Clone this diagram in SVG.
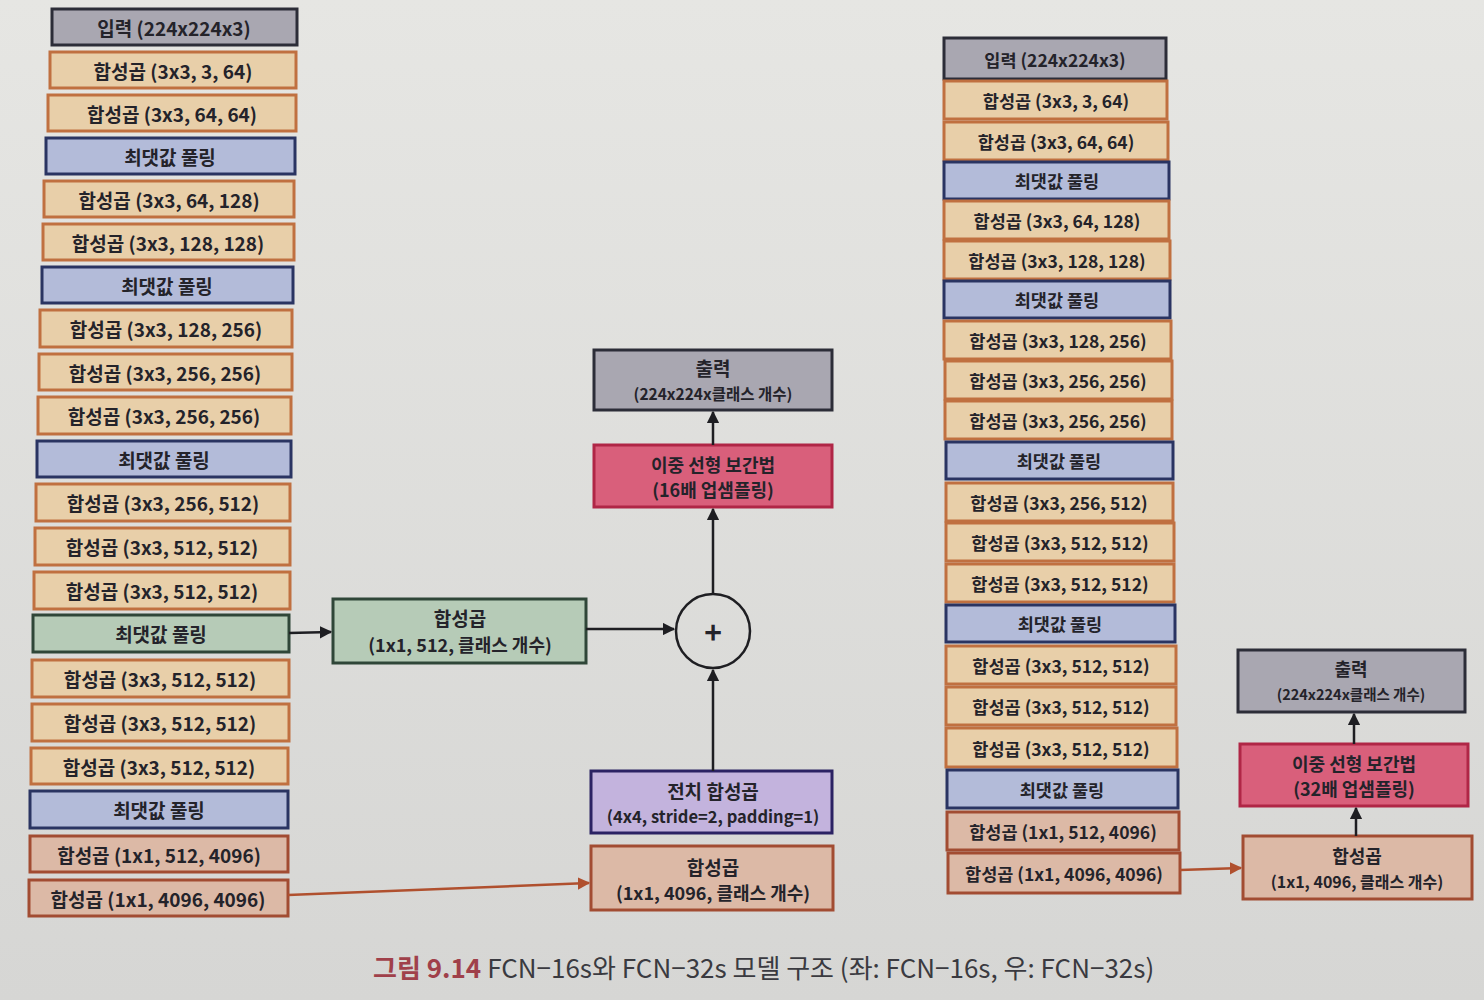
<svg xmlns="http://www.w3.org/2000/svg" width="1484" height="1000" viewBox="0 0 1484 1000">
<defs>
<linearGradient id="bg" x1="0" y1="0" x2="0" y2="1">
<stop offset="0" stop-color="#e6e6e3"/>
<stop offset="1" stop-color="#d6d6d4"/>
</linearGradient>
<marker id="ah" viewBox="0 0 10 10" refX="9" refY="5" markerWidth="5" markerHeight="5" orient="auto">
<path d="M0,0 L10,5 L0,10 z" fill="#1e1e22"/>
</marker>
<marker id="aho" viewBox="0 0 10 10" refX="9" refY="5" markerWidth="5" markerHeight="5" orient="auto">
<path d="M0,0 L10,5 L0,10 z" fill="#b0502e"/>
</marker>
</defs>
<style>
text{font-family:"Noto Sans CJK KR","Noto Sans",sans-serif;font-weight:700;fill:#24232a;text-anchor:middle;dominant-baseline:central}
.l{font-size:19px}
.r{font-size:17.5px}
.c{font-size:18px}
.in{fill:#a9a7b1;stroke:#2c2d38;stroke-width:3}
.cv{fill:#e8cfa9;stroke:#c07040;stroke-width:3}
.pl{fill:#b3bbd9;stroke:#2a3462;stroke-width:3}
.pg{fill:#b6cbb7;stroke:#2f4638;stroke-width:3}
.fc{fill:#dcb9a6;stroke:#a24c32;stroke-width:3}
.bl{fill:#d95f7b;stroke:#b02646;stroke-width:3}
.tp{fill:#c3b3dd;stroke:#2b2263;stroke-width:3}
.ln{stroke:#1e1e22;stroke-width:2.5;fill:none}
.lo{stroke:#b0502e;stroke-width:2.5;fill:none}
</style>
<rect x="0" y="0" width="1484" height="1000" fill="url(#bg)"/>

<g id="left">
<g id="L0"><rect class="in" x="52" y="9" width="245" height="36"/><text class="l" x="174" y="27">입력 (224x224x3)</text></g>
<g id="L1"><rect class="cv" x="50" y="52" width="246" height="36"/><text class="l" x="173" y="70">합성곱 (3x3, 3, 64)</text></g>
<g id="L2"><rect class="cv" x="48" y="95" width="248" height="36"/><text class="l" x="172" y="113">합성곱 (3x3, 64, 64)</text></g>
<g id="L3"><rect class="pl" x="46" y="138" width="249" height="36"/><text class="l" x="170" y="156">최댓값 풀링</text></g>
<g id="L4"><rect class="cv" x="44" y="181" width="250" height="36"/><text class="l" x="169" y="199">합성곱 (3x3, 64, 128)</text></g>
<g id="L5"><rect class="cv" x="43" y="224" width="251" height="36"/><text class="l" x="168" y="242">합성곱 (3x3, 128, 128)</text></g>
<g id="L6"><rect class="pl" x="42" y="267" width="251" height="36"/><text class="l" x="167" y="285">최댓값 풀링</text></g>
<g id="L7"><rect class="cv" x="40" y="310" width="252" height="37"/><text class="l" x="166" y="328">합성곱 (3x3, 128, 256)</text></g>
<g id="L8"><rect class="cv" x="39" y="354" width="253" height="36"/><text class="l" x="165" y="372">합성곱 (3x3, 256, 256)</text></g>
<g id="L9"><rect class="cv" x="38" y="397" width="253" height="37"/><text class="l" x="164" y="415">합성곱 (3x3, 256, 256)</text></g>
<g id="L10"><rect class="pl" x="37" y="441" width="254" height="36"/><text class="l" x="164" y="459">최댓값 풀링</text></g>
<g id="L11"><rect class="cv" x="36" y="484" width="254" height="37"/><text class="l" x="163" y="502">합성곱 (3x3, 256, 512)</text></g>
<g id="L12"><rect class="cv" x="35" y="528" width="255" height="37"/><text class="l" x="162" y="546">합성곱 (3x3, 512, 512)</text></g>
<g id="L13"><rect class="cv" x="34" y="572" width="256" height="37"/><text class="l" x="162" y="590">합성곱 (3x3, 512, 512)</text></g>
<g id="L14"><rect class="pg" x="33" y="615" width="256" height="37"/><text class="l" x="161" y="633">최댓값 풀링</text></g>
<g id="L15"><rect class="cv" x="32" y="660" width="257" height="37"/><text class="l" x="160" y="678">합성곱 (3x3, 512, 512)</text></g>
<g id="L16"><rect class="cv" x="32" y="704" width="257" height="37"/><text class="l" x="160" y="722">합성곱 (3x3, 512, 512)</text></g>
<g id="L17"><rect class="cv" x="31" y="748" width="257" height="36"/><text class="l" x="159" y="766">합성곱 (3x3, 512, 512)</text></g>
<g id="L18"><rect class="pl" x="30" y="791" width="258" height="37"/><text class="l" x="159" y="809">최댓값 풀링</text></g>
<g id="L19"><rect class="fc" x="30" y="836" width="258" height="36"/><text class="l" x="159" y="854">합성곱 (1x1, 512, 4096)</text></g>
<g id="L20"><rect class="fc" x="29" y="880" width="259" height="36"/><text class="l" x="158" y="898">합성곱 (1x1, 4096, 4096)</text></g>
</g>

<g id="center">
<g id="C_score"><rect class="pg" x="333" y="599" width="253" height="64"/><text class="c" x="460" y="617" style="font-size:19px">합성곱</text><text class="c" x="460" y="644">(1x1, 512, 클래스 개수)</text></g>
<g id="C_sum"><circle cx="713" cy="631" r="37" fill="none" stroke="#1e1e22" stroke-width="2.5"/><text x="713" y="631" style="font-size:30px">+</text></g>
<g id="C_out"><rect class="in" x="594" y="350" width="238" height="60"/><text class="c" x="713" y="367" style="font-size:19px">출력</text><text class="c" x="713" y="393" style="font-size:15.5px">(224x224x클래스 개수)</text></g>
<g id="C_bil"><rect class="bl" x="594" y="445" width="238" height="62"/><text class="c" x="713" y="464">이중 선형 보간법</text><text class="c" x="713" y="489">(16배 업샘플링)</text></g>
<g id="C_tconv"><rect class="tp" x="591" y="771" width="241" height="62"/><text class="c" x="713" y="790" style="font-size:19px">전치 합성곱</text><text class="c" x="713" y="816" style="font-size:16.5px">(4x4, stride=2, padding=1)</text></g>
<g id="C_conv"><rect class="fc" x="591" y="846" width="242" height="64"/><text class="c" x="713" y="866" style="font-size:19px">합성곱</text><text class="c" x="713" y="892">(1x1, 4096, 클래스 개수)</text></g>
</g>

<g id="right">
<g id="R0"><rect class="in" x="944" y="38" width="222" height="41"/><text class="r" x="1055" y="59">입력 (224x224x3)</text></g>
<g id="R1"><rect class="cv" x="944" y="81" width="223" height="38"/><text class="r" x="1056" y="100">합성곱 (3x3, 3, 64)</text></g>
<g id="R2"><rect class="cv" x="944" y="122" width="224" height="38"/><text class="r" x="1056" y="141">합성곱 (3x3, 64, 64)</text></g>
<g id="R3"><rect class="pl" x="944" y="162" width="225" height="37"/><text class="r" x="1057" y="180">최댓값 풀링</text></g>
<g id="R4"><rect class="cv" x="944" y="201" width="225" height="38"/><text class="r" x="1057" y="220">합성곱 (3x3, 64, 128)</text></g>
<g id="R5"><rect class="cv" x="944" y="241" width="226" height="38"/><text class="r" x="1057" y="260">합성곱 (3x3, 128, 128)</text></g>
<g id="R6"><rect class="pl" x="944" y="281" width="226" height="37"/><text class="r" x="1057" y="299">최댓값 풀링</text></g>
<g id="R7"><rect class="cv" x="944" y="321" width="227" height="38"/><text class="r" x="1058" y="340">합성곱 (3x3, 128, 256)</text></g>
<g id="R8"><rect class="cv" x="945" y="361" width="227" height="38"/><text class="r" x="1058" y="380">합성곱 (3x3, 256, 256)</text></g>
<g id="R9"><rect class="cv" x="945" y="401" width="227" height="38"/><text class="r" x="1058" y="420">합성곱 (3x3, 256, 256)</text></g>
<g id="R10"><rect class="pl" x="946" y="442" width="227" height="37"/><text class="r" x="1059" y="460">최댓값 풀링</text></g>
<g id="R11"><rect class="cv" x="946" y="483" width="227" height="38"/><text class="r" x="1059" y="502">합성곱 (3x3, 256, 512)</text></g>
<g id="R12"><rect class="cv" x="946" y="523" width="228" height="38"/><text class="r" x="1060" y="542">합성곱 (3x3, 512, 512)</text></g>
<g id="R13"><rect class="cv" x="946" y="564" width="228" height="38"/><text class="r" x="1060" y="583">합성곱 (3x3, 512, 512)</text></g>
<g id="R14"><rect class="pl" x="946" y="605" width="229" height="37"/><text class="r" x="1060" y="623">최댓값 풀링</text></g>
<g id="R15"><rect class="cv" x="946" y="646" width="230" height="38"/><text class="r" x="1061" y="665">합성곱 (3x3, 512, 512)</text></g>
<g id="R16"><rect class="cv" x="946" y="687" width="230" height="38"/><text class="r" x="1061" y="706">합성곱 (3x3, 512, 512)</text></g>
<g id="R17"><rect class="cv" x="946" y="728" width="231" height="39"/><text class="r" x="1061" y="748">합성곱 (3x3, 512, 512)</text></g>
<g id="R18"><rect class="pl" x="947" y="770" width="231" height="38"/><text class="r" x="1062" y="789">최댓값 풀링</text></g>
<g id="R19"><rect class="fc" x="947" y="812" width="232" height="38"/><text class="r" x="1063" y="831">합성곱 (1x1, 512, 4096)</text></g>
<g id="R20"><rect class="fc" x="948" y="853" width="232" height="40"/><text class="r" x="1064" y="873">합성곱 (1x1, 4096, 4096)</text></g>
<g id="R_out"><rect class="in" x="1238" y="650" width="227" height="62"/><text class="c" x="1351" y="668">출력</text><text class="c" x="1351" y="693" style="font-size:14.5px">(224x224x클래스 개수)</text></g>
<g id="R_bil"><rect class="bl" x="1240" y="744" width="228" height="62"/><text class="c" x="1354" y="763">이중 선형 보간법</text><text class="c" x="1354" y="788">(32배 업샘플링)</text></g>
<g id="R_conv"><rect class="fc" x="1243" y="836" width="229" height="63"/><text class="c" x="1357" y="855">합성곱</text><text class="c" x="1357" y="881" style="font-size:16px">(1x1, 4096, 클래스 개수)</text></g>
</g>

<g id="connectors">
<line class="ln" x1="289" y1="633" x2="331" y2="632" marker-end="url(#ah)"/>
<line class="ln" x1="586" y1="629" x2="674" y2="629" marker-end="url(#ah)"/>
<line class="ln" x1="713" y1="594" x2="713" y2="509" marker-end="url(#ah)"/>
<line class="ln" x1="713" y1="445" x2="713" y2="412" marker-end="url(#ah)"/>
<line class="ln" x1="713" y1="771" x2="713" y2="670" marker-end="url(#ah)"/>
<line class="lo" x1="288" y1="895" x2="589" y2="883" marker-end="url(#aho)"/>
<line class="lo" x1="1180" y1="870" x2="1241" y2="868" marker-end="url(#aho)"/>
<line class="ln" x1="1356" y1="836" x2="1356" y2="808" marker-end="url(#ah)"/>
<line class="ln" x1="1354" y1="744" x2="1354" y2="714" marker-end="url(#ah)"/>
</g>

<g id="caption">
<text x="373" y="966" style="font-size:26px;text-anchor:start;font-weight:700;fill:#a0404a">그림 9.14 <tspan style="font-weight:400;fill:#3a3a40">FCN−16s와 FCN−32s 모델 구조 (좌: FCN−16s, 우: FCN−32s)</tspan></text>
</g>
</svg>
